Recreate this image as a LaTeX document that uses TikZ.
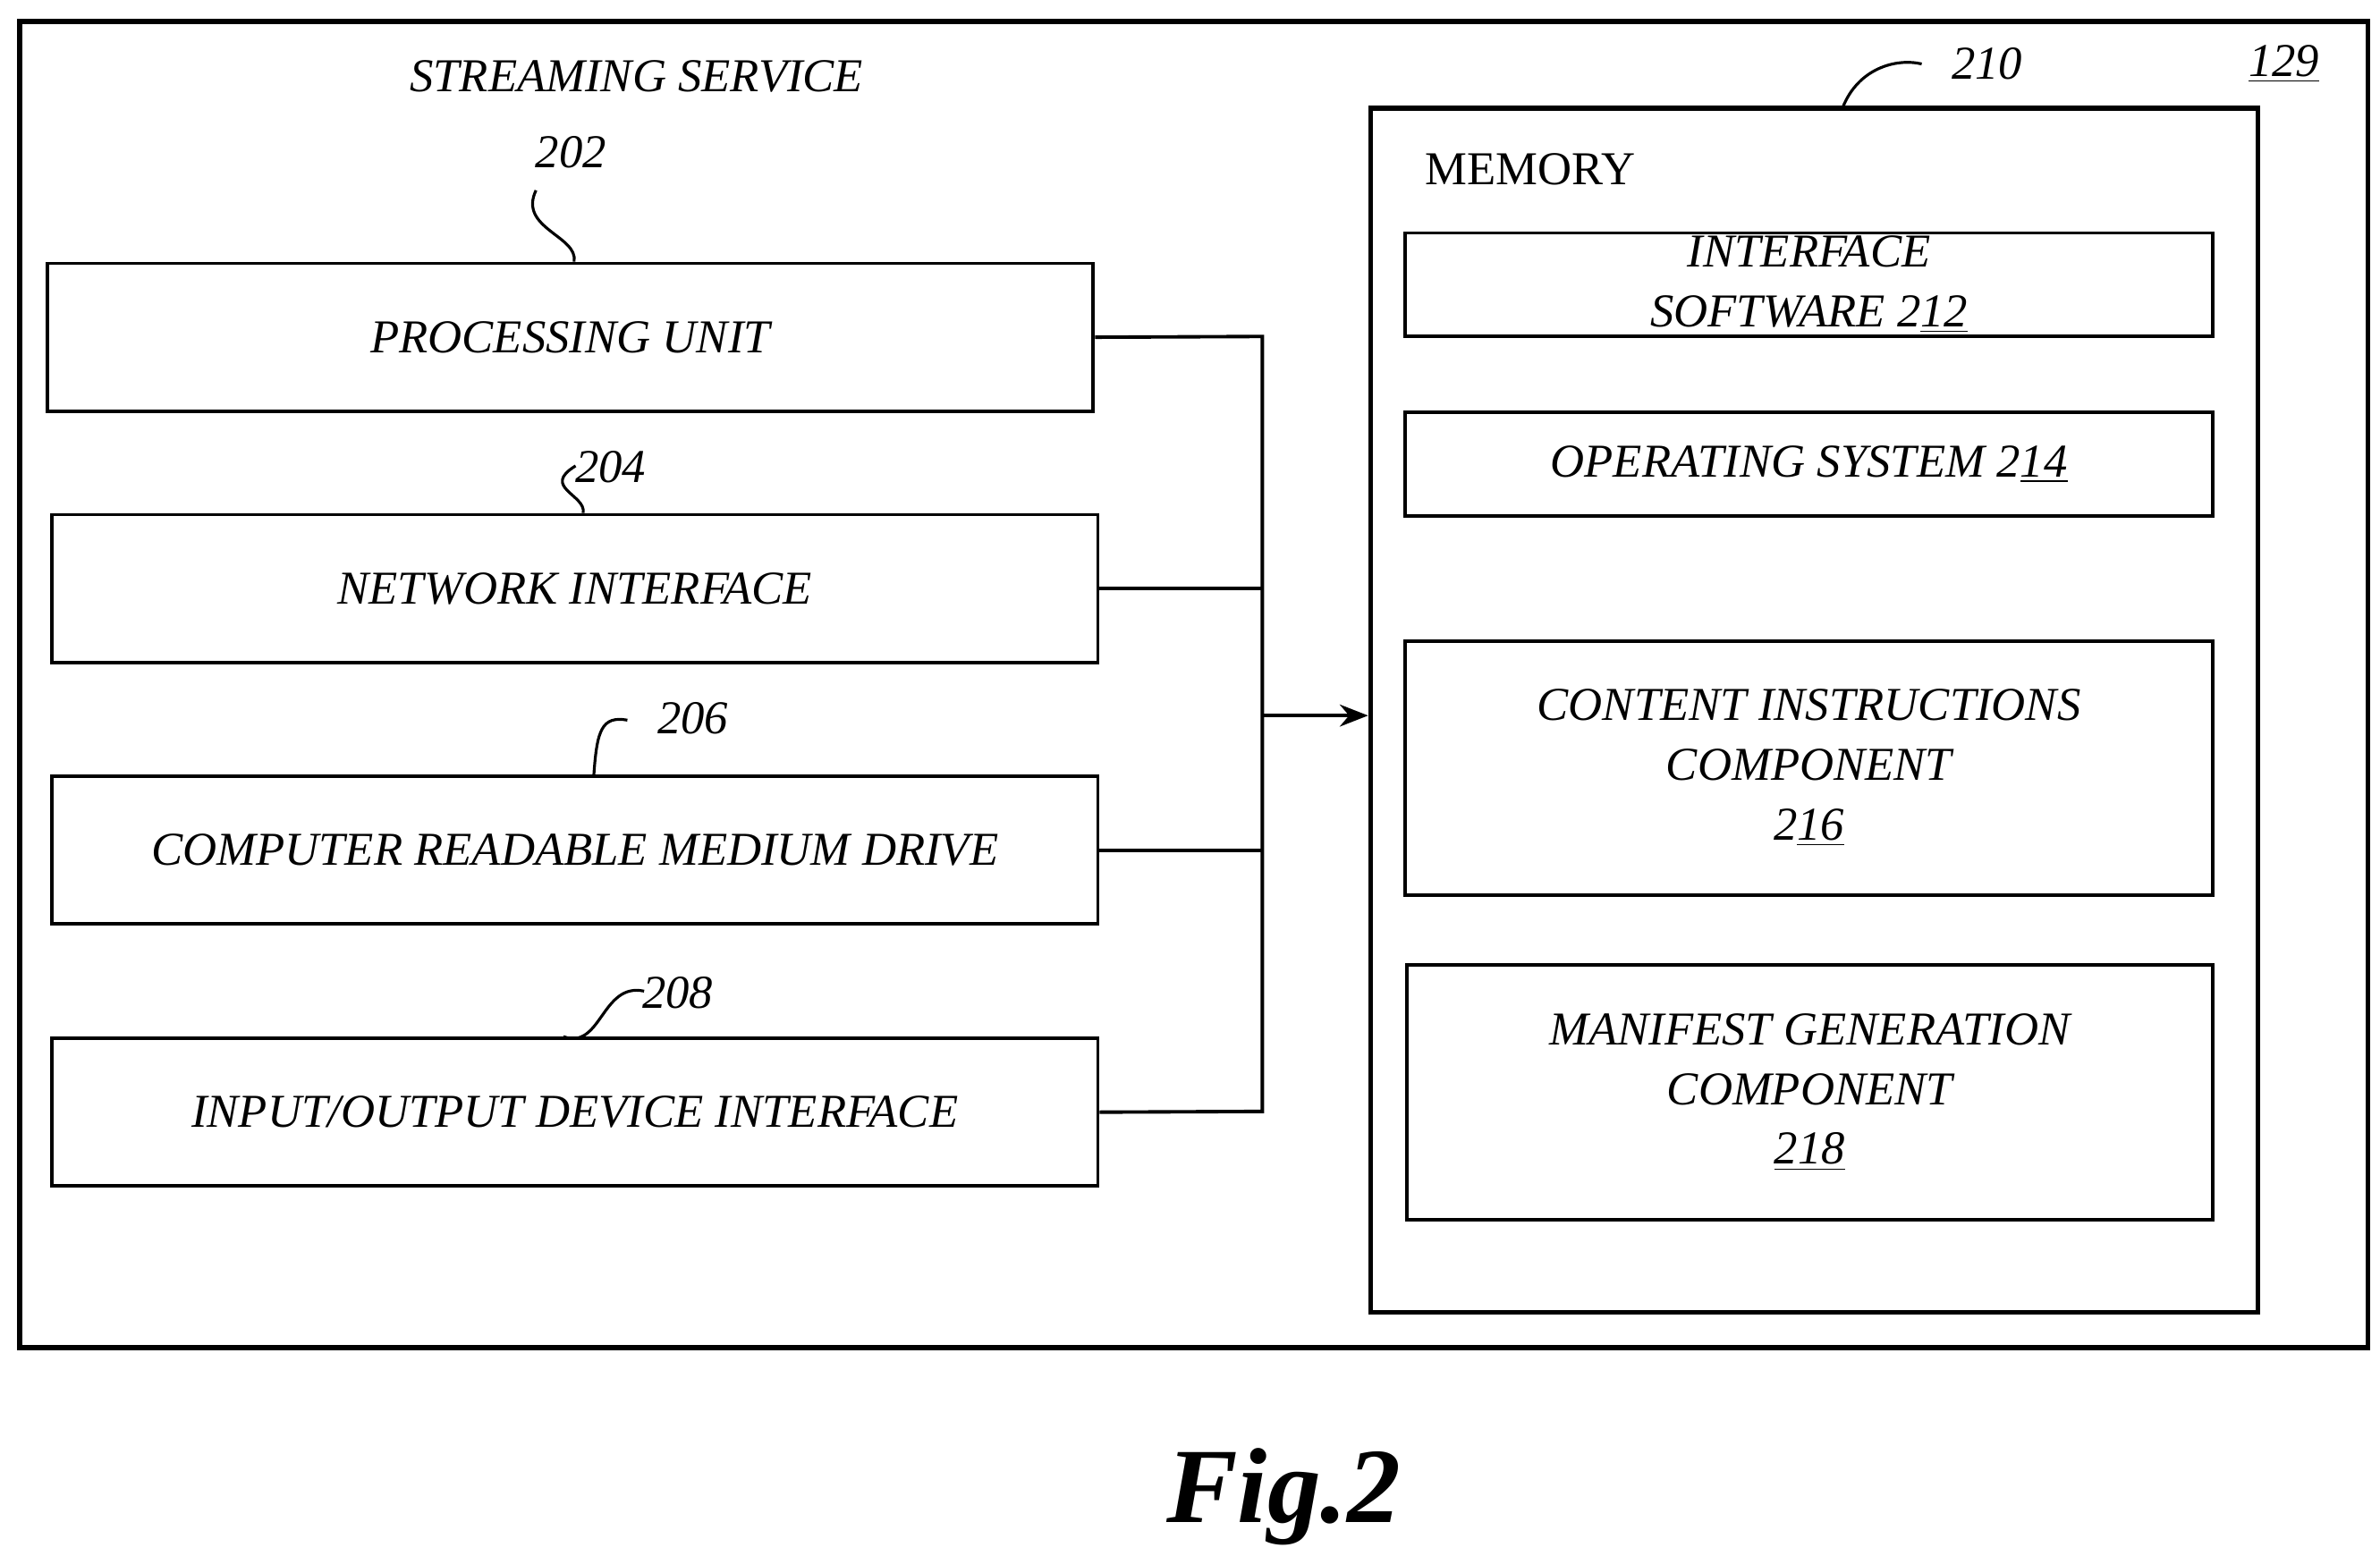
\documentclass[tikz,border=0pt]{standalone}
\usepackage{fontspec}
\setmainfont{Liberation Serif}
\usetikzlibrary{positioning,fit,arrows.meta,calc}

\begin{document}
\begin{tikzpicture}
    [x=0.017025cm,y=-0.017025cm,
    box/.style={draw,line width=1.1pt,inner sep=0pt},
    txt/.style={align=center,inner sep=0pt,
        font=\fontsize{15}{19}\selectfont\itshape},
    num/.style={font=\fontsize{15}{18}\selectfont\itshape},
    squig/.style={line width=0.9pt},
    bus/.style={line width=1.1pt}]

    \useasboundingbox (0,0) rectangle (1563,1022);

    %%% frames
    \draw[line width=1.6pt] (13,14) rectangle (1555,885);
    \node[txt] (title) at (418,50) {STREAMING SERVICE};
    \node[num] (n129) at (1500,42) {\underline{129}};

    \node[box,line width=1.5pt,fit={(900,71)(1483,862)}] (mem) {};
    \node[txt,font=\fontsize{15}{18}\selectfont] (memlabel) at (1005,111) {MEMORY};
    \node[num] (n210) at (1305,42) {210};
    \draw[squig] (1210,71) .. controls (1220,45) and (1245,38) .. (1262,42);

    %%% memory content
    \node[box,fit={(923,153)(1453,221)}] (isw) {};
    \node[txt] (iswtext) at (isw.center) {INTERFACE\\SOFTWARE 2\underline{12}};
    \node[box,fit={(923,271)(1453,339)}] (os) {};
    \node[txt] (ostext) at (os.center) {OPERATING SYSTEM 2\underline{14}};
    \node[box,fit={(923,421)(1453,588)}] (cic) {};
    \node[txt] (cictext) at (cic.center) {CONTENT INSTRUCTIONS\\COMPONENT\\2\underline{16}};
    \node[box,fit={(924,634)(1453,801)}] (mgc) {};
    \node[txt] (mgctext) at (mgc.center) {MANIFEST GENERATION\\COMPONENT\\\underline{218}};

    %%% left column
    \node[box,fit={(31,173)(718,270)}] (pu) {};
    \node[txt] (putext) at (pu.center) {PROCESSING UNIT};
    \node[box,fit={(34,338)(721,435)}] (ni) {};
    \node[txt] (nitext) at (ni.center) {NETWORK INTERFACE};
    \node[box,fit={(34,510)(721,607)}] (crmd) {};
    \node[txt] (crmdtext) at (crmd.center) {COMPUTER READABLE MEDIUM DRIVE};
    \node[box,fit={(34,682)(721,779)}] (io) {};
    \node[txt] (iotext) at (io.center) {INPUT/OUTPUT DEVICE INTERFACE};

    \node[num] (n202) at (375,100) {202};
    \node[num] (n204) at (401,307) {204};
    \node[num] (n206) at (455,472) {206};
    \node[num] (n208) at (445,652) {208};
    \draw[squig] (pu.north -| 377,0) .. controls (380,155) and (340,150) .. (352,125);
    \draw[squig] (ni.north -| 383,0) .. controls (385,325) and (355,320) .. (378,306);
    \draw[squig] (crmd.north -| 390,0) .. controls (392,480) and (395,470) .. (412,473);
    \draw[squig] (io.north -| 370,0) .. controls (395,690) and (395,645) .. (423,651);

    %% lines
    \coordinate (bustop) at (829,221);
    \coordinate (busbot) at (829,730);
    \coordinate (busmid) at (829,470);
    \draw[bus] (pu.east) -- (bustop) -- (busbot) -- (io.east);
    \draw[bus] (ni.east) -- (ni.east -| bustop);
    \draw[bus] (crmd.east) -- (crmd.east -| bustop);
    \draw[bus,-{Stealth[length=9pt,width=7pt]}] (busmid) -- (busmid -| mem.west);

    \node[font=\fontsize{34}{40}\selectfont\bfseries\itshape] (fig) at (843,983) {Fig.2};
\end{tikzpicture}
\end{document}
